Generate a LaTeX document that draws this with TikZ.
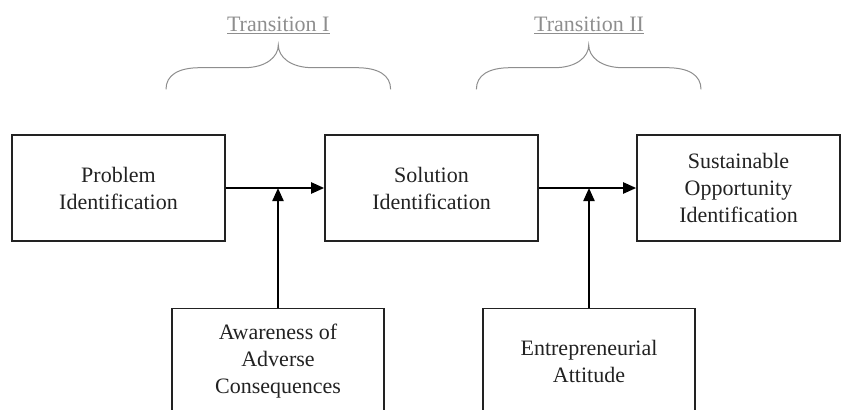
\documentclass[tikz,border=0pt]{standalone}
\usepackage{fontspec}
\setmainfont{Liberation Serif}
\usetikzlibrary{arrows.meta}
\definecolor{boxline}{HTML}{222222}
\definecolor{transgray}{HTML}{8E8E8E}
\begin{document}
\begin{tikzpicture}[x=1pt,y=-1pt,
  stagebox/.style={draw=boxline, line width=1.6pt, minimum width=213pt, minimum height=106pt,
    inner sep=0pt, align=center, font=\fontsize{22}{27}\selectfont, text=boxline},
  flow/.style={line width=2.2pt, draw=black, -{Triangle[length=13pt,width=11pt]}},
  bracestyle/.style={draw=transgray, line width=1pt},
  translabel/.style={text=transgray, font=\fontsize{22}{27}\selectfont, inner sep=0pt, anchor=base}]
\useasboundingbox (0,0) rectangle (842,409);
\begin{scope}
\clip (0,0) rectangle (842,409);
\node[stagebox] (prob) at (118.5,188) {Problem\\Identification};
\node[stagebox] (sol) at (431.5,188) {Solution\\Identification};
\node[stagebox, minimum width=203pt] (sust) at (738.5,188) {Sustainable\\Opportunity\\Identification};
\node[stagebox, minimum width=212pt] (aware) at (278,361.3) {Awareness of\\Adverse\\Consequences};
\node[stagebox, minimum width=212pt] (entre) at (589,361.3) {Entrepreneurial\\Attitude};
\end{scope}
\coordinate (j1) at (aware.north |- prob.east);
\coordinate (j2) at (entre.north |- sol.east);
\draw[flow] (prob.east) -- (sol.west);
\draw[flow] (sol.east) -- (sust.west);
\draw[flow] (aware.north) -- (j1);
\draw[flow] (entre.north) -- (j2);
% braces
\coordinate (b1) at (278.3,45);
\coordinate (b2) at (588.7,45);
\draw[bracestyle] (b1) ++(-112.3,44.3) .. controls +(0,-14) and +(-22,0) .. ++(34,-21.6)
  -- ++(44,0) .. controls +(22,0) and +(0,12) .. (b1)
  .. controls +(0,12) and +(-22,0) .. ++(34.3,22.7) -- ++(44,0)
  .. controls +(22,0) and +(0,-14) .. ++(34,21.6);
\draw[bracestyle] (b2) ++(-112.3,44.3) .. controls +(0,-14) and +(-22,0) .. ++(34,-21.6)
  -- ++(44,0) .. controls +(22,0) and +(0,12) .. (b2)
  .. controls +(0,12) and +(-22,0) .. ++(34.3,22.7) -- ++(44,0)
  .. controls +(22,0) and +(0,-14) .. ++(34,21.6);
\node[translabel] (t1) at (278.3,31.5) {\underline{Transition I}};
\node[translabel] (t2) at (589,31.5) {\underline{Transition II}};
\end{tikzpicture}
\end{document}
